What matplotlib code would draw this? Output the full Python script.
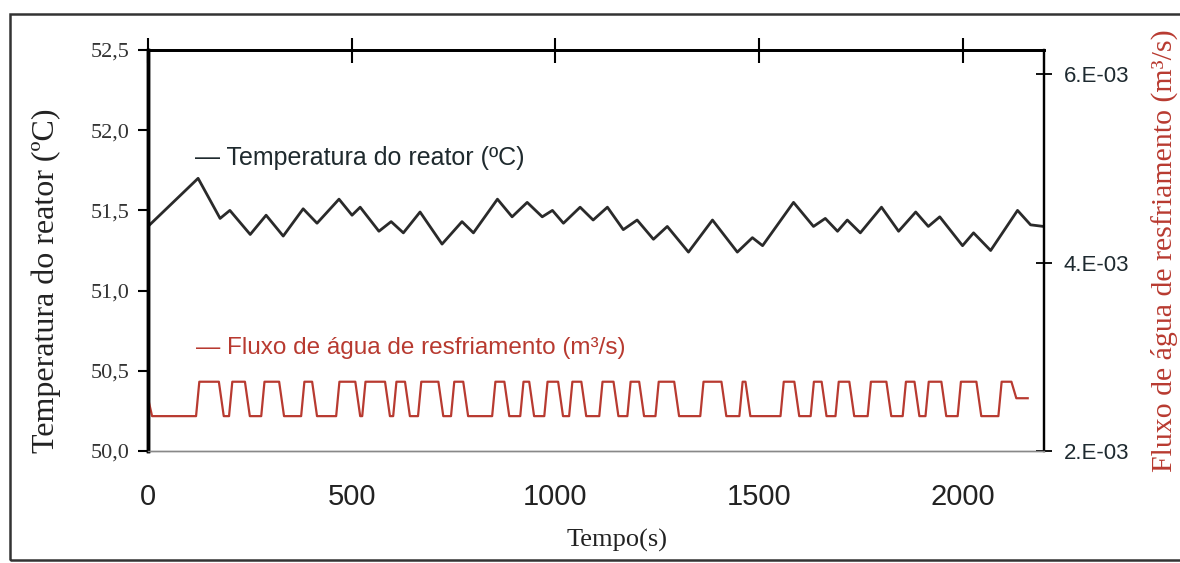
import matplotlib.pyplot as plt
from matplotlib.patches import Rectangle

# temperatura do reator
tempo_temp = [0, 123, 177, 201, 251, 290, 332, 381, 415, 469, 501, 521, 567, 597, 627,
              668, 722, 771, 799, 858, 894, 931, 968, 993, 1020, 1061, 1093, 1128, 1167,
              1201, 1241, 1275, 1327, 1386, 1447, 1484, 1509, 1585, 1634, 1663, 1693,
              1717, 1749, 1801, 1843, 1885, 1916, 1944, 2000, 2027, 2069, 2135, 2167, 2199]
temperatura = [51.40, 51.70, 51.45, 51.50, 51.35, 51.47, 51.34, 51.51, 51.42, 51.57,
               51.47, 51.52, 51.37, 51.43, 51.36, 51.49, 51.29, 51.43, 51.36, 51.57,
               51.46, 51.55, 51.46, 51.50, 51.42, 51.52, 51.44, 51.52, 51.38, 51.44,
               51.32, 51.40, 51.24, 51.44, 51.24, 51.33, 51.28, 51.55, 51.40, 51.45,
               51.37, 51.44, 51.36, 51.52, 51.37, 51.49, 51.40, 51.46, 51.28, 51.36,
               51.25, 51.50, 51.41, 51.40]

# fluxo de água: instantes de subida e descida de cada pulso
pulso_sobe = [118, 199, 278, 376, 462, 526, 602, 663, 744, 845, 914, 973, 1034, 1108,
              1177, 1246, 1356, 1452, 1553, 1627, 1688, 1767, 1853, 1909, 1988, 2088]
pulso_desce = [174, 238, 322, 403, 509, 582, 631, 713, 774, 875, 936, 1007, 1064, 1143,
               1206, 1292, 1408, 1467, 1587, 1654, 1722, 1813, 1882, 1948, 2034, 2120]
fluxo_baixo = 2.37e-3
fluxo_alto = 2.735e-3
fluxo_inicio = 2.56e-3
fluxo_fim = 2.56e-3
tempo_fim = 2160

t_fluxo = [0, 10]
fluxo = [fluxo_inicio, fluxo_baixo]
for i, (s, d) in enumerate(zip(pulso_sobe, pulso_desce)):
    final = fluxo_fim if i == len(pulso_sobe) - 1 else fluxo_baixo
    t_fluxo += [s, s + 8, d, d + 12]
    fluxo += [fluxo_baixo, fluxo_alto, fluxo_alto, final]
t_fluxo.append(tempo_fim)
fluxo.append(fluxo_fim)

vermelho = '#b83a30'
serif = 'Liberation Serif'
sans = 'Liberation Sans'

fig = plt.figure(figsize=(11.8, 5.63), dpi=100)
ax = fig.add_axes([148/1180, 1 - 451/563, 896/1180, 401/563])
ax2 = ax.twinx()

ax.plot(tempo_temp, temperatura, color='#2a2a2a', lw=2)
ax2.plot(t_fluxo, fluxo, color=vermelho, lw=1.6)

ax.set_xlim(0, 2200)
ax.set_ylim(50.0, 52.5)
ax2.set_ylim(2e-3, 6.255e-3)

ax.set_xticks([0, 500, 1000, 1500, 2000])
ax.set_xticklabels(['0', '500', '1000', '1500', '2000'], fontfamily=sans, fontsize=21, color='#222')
ax.tick_params(axis='x', bottom=False, top=True, labelbottom=True, direction='inout',
               length=18, width=1.5, pad=14)

yt = [50.0, 50.5, 51.0, 51.5, 52.0, 52.5]
ax.set_yticks(yt)
ax.set_yticklabels([f'{v:.1f}'.replace('.', ',') for v in yt], fontfamily=serif, fontsize=16, color='#333')
ax.tick_params(axis='y', direction='out', length=7, width=1.5, pad=6)

yt2 = [2e-3, 4e-3, 6e-3]
ax2.set_yticks(yt2)
ax2.set_yticklabels([f'{v*1e3:.0f}.E-03' for v in yt2], fontfamily=sans, fontsize=16, color='#1e2a30')
ax2.tick_params(axis='y', direction='inout', length=12, width=1.3, pad=8)

for a in (ax, ax2):
    a.spines['top'].set_linewidth(2)
    a.spines['left'].set_linewidth(2.5)
    a.spines['right'].set_linewidth(1.6)
    a.spines['bottom'].set_linewidth(1)
    a.spines['bottom'].set_color('#888888')

ax.set_ylabel('Temperatura do reator (ºC)', fontfamily=serif, fontsize=23, color='#222')
ax.yaxis.set_label_coords(-0.097, 0.424)
ax2.set_ylabel('Fluxo de água de resfriamento (m³/s)', fontfamily=serif, fontsize=21.5,
               color=vermelho)
ax2.yaxis.set_label_coords(1.119, 0.5)
ax.set_xlabel('Tempo(s)', fontfamily=serif, fontsize=19, color='#222')
ax.xaxis.set_label_coords(0.523, -0.195)

ax.text(0.052, 0.731, '— Temperatura do reator (ºC)', transform=ax.transAxes,
        fontfamily=sans, fontsize=18, color='#1f2a2e', va='center')
ax.text(0.054, 0.257, '— Fluxo de água de resfriamento (m³/s)', transform=ax.transAxes,
        fontfamily=sans, fontsize=17.5, color=vermelho, va='center')

fig.patches.append(Rectangle((10/1180, 3/563), 1.0, (560 - 14)/563, transform=fig.transFigure,
                             fill=False, lw=1.8, edgecolor='#333333'))

fig.savefig('out.png', dpi=100)
